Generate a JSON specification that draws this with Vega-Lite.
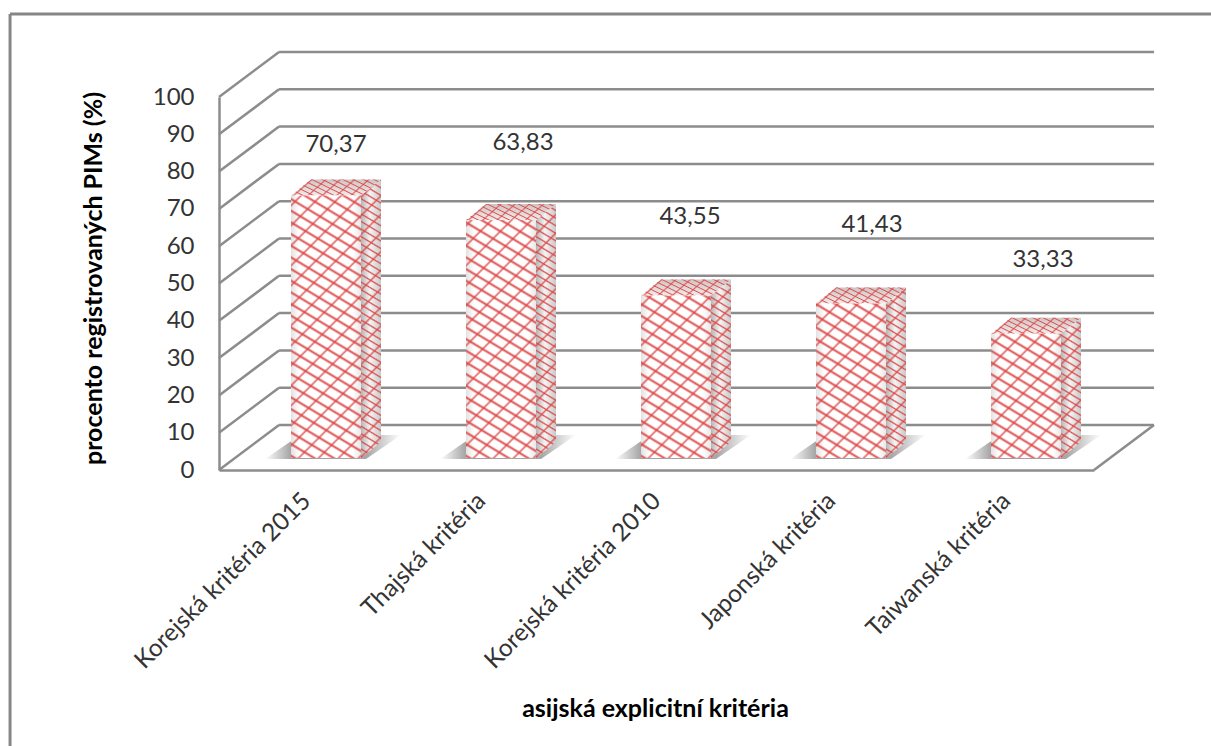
{"$schema":"https://vega.github.io/schema/vega-lite/v6.json","width":875,"height":373,"autosize":"none","padding":{"left":219,"top":97,"right":117,"bottom":276},"background":"white","config":{"font":"Lato","view":{"stroke":null},"axis":{"labelFont":"Lato","titleFont":"Lato"}},
"params":[
{"name":"pruhyA","value":[{"offset":0,"color":"#d440"},{"offset":0.005,"color":"#d44e"},{"offset":0.01,"color":"#d440"},{"offset":0.025,"color":"#d440"},{"offset":0.03,"color":"#d44e"},{"offset":0.035,"color":"#d440"},{"offset":0.05,"color":"#d440"},{"offset":0.055,"color":"#d44e"},{"offset":0.06,"color":"#d440"},{"offset":0.075,"color":"#d440"},{"offset":0.08,"color":"#d44e"},{"offset":0.085,"color":"#d440"},{"offset":0.1,"color":"#d440"},{"offset":0.105,"color":"#d44e"},{"offset":0.11,"color":"#d440"},{"offset":0.125,"color":"#d440"},{"offset":0.13,"color":"#d44e"},{"offset":0.135,"color":"#d440"},{"offset":0.15,"color":"#d440"},{"offset":0.155,"color":"#d44e"},{"offset":0.16,"color":"#d440"},{"offset":0.175,"color":"#d440"},{"offset":0.18,"color":"#d44e"},{"offset":0.185,"color":"#d440"},{"offset":0.2,"color":"#d440"},{"offset":0.205,"color":"#d44e"},{"offset":0.21,"color":"#d440"},{"offset":0.225,"color":"#d440"},{"offset":0.23,"color":"#d44e"},{"offset":0.235,"color":"#d440"},{"offset":0.25,"color":"#d440"},{"offset":0.255,"color":"#d44e"},{"offset":0.26,"color":"#d440"},{"offset":0.275,"color":"#d440"},{"offset":0.28,"color":"#d44e"},{"offset":0.285,"color":"#d440"},{"offset":0.3,"color":"#d440"},{"offset":0.305,"color":"#d44e"},{"offset":0.31,"color":"#d440"},{"offset":0.325,"color":"#d440"},{"offset":0.33,"color":"#d44e"},{"offset":0.335,"color":"#d440"},{"offset":0.35,"color":"#d440"},{"offset":0.355,"color":"#d44e"},{"offset":0.36,"color":"#d440"},{"offset":0.375,"color":"#d440"},{"offset":0.38,"color":"#d44e"},{"offset":0.385,"color":"#d440"},{"offset":0.4,"color":"#d440"},{"offset":0.405,"color":"#d44e"},{"offset":0.41,"color":"#d440"},{"offset":0.425,"color":"#d440"},{"offset":0.43,"color":"#d44e"},{"offset":0.435,"color":"#d440"},{"offset":0.45,"color":"#d440"},{"offset":0.455,"color":"#d44e"},{"offset":0.46,"color":"#d440"},{"offset":0.475,"color":"#d440"},{"offset":0.48,"color":"#d44e"},{"offset":0.485,"color":"#d440"},{"offset":0.5,"color":"#d440"},{"offset":0.505,"color":"#d44e"},{"offset":0.51,"color":"#d440"},{"offset":0.525,"color":"#d440"},{"offset":0.53,"color":"#d44e"},{"offset":0.535,"color":"#d440"},{"offset":0.55,"color":"#d440"},{"offset":0.555,"color":"#d44e"},{"offset":0.56,"color":"#d440"},{"offset":0.575,"color":"#d440"},{"offset":0.58,"color":"#d44e"},{"offset":0.585,"color":"#d440"},{"offset":0.6,"color":"#d440"},{"offset":0.605,"color":"#d44e"},{"offset":0.61,"color":"#d440"},{"offset":0.625,"color":"#d440"},{"offset":0.63,"color":"#d44e"},{"offset":0.635,"color":"#d440"},{"offset":0.65,"color":"#d440"},{"offset":0.655,"color":"#d44e"},{"offset":0.66,"color":"#d440"},{"offset":0.675,"color":"#d440"},{"offset":0.68,"color":"#d44e"},{"offset":0.685,"color":"#d440"},{"offset":0.7,"color":"#d440"},{"offset":0.705,"color":"#d44e"},{"offset":0.71,"color":"#d440"},{"offset":0.725,"color":"#d440"},{"offset":0.73,"color":"#d44e"},{"offset":0.735,"color":"#d440"},{"offset":0.75,"color":"#d440"},{"offset":0.755,"color":"#d44e"},{"offset":0.76,"color":"#d440"},{"offset":0.775,"color":"#d440"},{"offset":0.78,"color":"#d44e"},{"offset":0.785,"color":"#d440"},{"offset":0.8,"color":"#d440"},{"offset":0.805,"color":"#d44e"},{"offset":0.81,"color":"#d440"},{"offset":0.825,"color":"#d440"},{"offset":0.83,"color":"#d44e"},{"offset":0.835,"color":"#d440"},{"offset":0.85,"color":"#d440"},{"offset":0.855,"color":"#d44e"},{"offset":0.86,"color":"#d440"},{"offset":0.875,"color":"#d440"},{"offset":0.88,"color":"#d44e"},{"offset":0.885,"color":"#d440"},{"offset":0.9,"color":"#d440"},{"offset":0.905,"color":"#d44e"},{"offset":0.91,"color":"#d440"},{"offset":0.925,"color":"#d440"},{"offset":0.93,"color":"#d44e"},{"offset":0.935,"color":"#d440"},{"offset":0.95,"color":"#d440"},{"offset":0.955,"color":"#d44e"},{"offset":0.96,"color":"#d440"},{"offset":0.975,"color":"#d440"},{"offset":0.98,"color":"#d44e"},{"offset":0.985,"color":"#d440"}]},
{"name":"pruhyB","value":[{"offset":0,"color":"#d440"},{"offset":0.006,"color":"#d44c"},{"offset":0.012,"color":"#d440"},{"offset":0.05,"color":"#d440"},{"offset":0.056,"color":"#d44c"},{"offset":0.062,"color":"#d440"},{"offset":0.1,"color":"#d440"},{"offset":0.106,"color":"#d44c"},{"offset":0.112,"color":"#d440"},{"offset":0.15,"color":"#d440"},{"offset":0.156,"color":"#d44c"},{"offset":0.162,"color":"#d440"},{"offset":0.2,"color":"#d440"},{"offset":0.206,"color":"#d44c"},{"offset":0.212,"color":"#d440"},{"offset":0.25,"color":"#d440"},{"offset":0.256,"color":"#d44c"},{"offset":0.262,"color":"#d440"},{"offset":0.3,"color":"#d440"},{"offset":0.306,"color":"#d44c"},{"offset":0.312,"color":"#d440"},{"offset":0.35,"color":"#d440"},{"offset":0.356,"color":"#d44c"},{"offset":0.362,"color":"#d440"},{"offset":0.4,"color":"#d440"},{"offset":0.406,"color":"#d44c"},{"offset":0.412,"color":"#d440"},{"offset":0.45,"color":"#d440"},{"offset":0.456,"color":"#d44c"},{"offset":0.462,"color":"#d440"},{"offset":0.5,"color":"#d440"},{"offset":0.506,"color":"#d44c"},{"offset":0.512,"color":"#d440"},{"offset":0.55,"color":"#d440"},{"offset":0.556,"color":"#d44c"},{"offset":0.562,"color":"#d440"},{"offset":0.6,"color":"#d440"},{"offset":0.606,"color":"#d44c"},{"offset":0.612,"color":"#d440"},{"offset":0.65,"color":"#d440"},{"offset":0.656,"color":"#d44c"},{"offset":0.662,"color":"#d440"},{"offset":0.7,"color":"#d440"},{"offset":0.706,"color":"#d44c"},{"offset":0.712,"color":"#d440"},{"offset":0.75,"color":"#d440"},{"offset":0.756,"color":"#d44c"},{"offset":0.762,"color":"#d440"},{"offset":0.8,"color":"#d440"},{"offset":0.806,"color":"#d44c"},{"offset":0.812,"color":"#d440"},{"offset":0.85,"color":"#d440"},{"offset":0.856,"color":"#d44c"},{"offset":0.862,"color":"#d440"},{"offset":0.9,"color":"#d440"},{"offset":0.906,"color":"#d44c"},{"offset":0.912,"color":"#d440"},{"offset":0.95,"color":"#d440"},{"offset":0.956,"color":"#d44c"},{"offset":0.962,"color":"#d440"}]}
],
"datasets":{"osa":[{"hodnota":0},{"hodnota":10},{"hodnota":20},{"hodnota":30},{"hodnota":40},{"hodnota":50},{"hodnota":60},{"hodnota":70},{"hodnota":80},{"hodnota":90},{"hodnota":100}]},
"data":{"values":[{"kriterium":"Korejská kritéria 2015","procento":70.37},{"kriterium":"Thajská kritéria","procento":63.83},{"kriterium":"Korejská kritéria 2010","procento":43.55},{"kriterium":"Japonská kritéria","procento":41.43},{"kriterium":"Taiwanská kritéria","procento":33.33}]},
"transform":[
{"window":[{"op":"row_number","as":"poradi"}]},
{"calculate":"datum.poradi-1+0.4114","as":"levy"},
{"calculate":"datum.levy+0.4","as":"pravy"},
{"calculate":"datum.procento+3.2","as":"vrch"},
{"calculate":"replace(format(datum.procento,'.2f'),'.',',')","as":"popisek"},
{"calculate":"datum.procento*3.73","as":"h"},
{"calculate":"400/(70*datum.h*(pow(0.515/datum.h,2)+pow(0.857/70,2)))","as":"kA"},
{"calculate":"280/(70*datum.h*(pow(0.7/datum.h,2)+pow(0.7/70,2)))","as":"kB"},
{"calculate":"{gradient:'linear',x1:0,y1:1,x2:datum.kA*0.515/datum.h,y2:1-datum.kA*0.857/70,stops:pruhyA}","as":"predniA"},
{"calculate":"{gradient:'linear',x1:1,y1:1,x2:1-datum.kB*0.7/datum.h,y2:1-datum.kB*0.7/70,stops:pruhyB}","as":"predniB"},
{"calculate":"datum.h+16","as":"hs"},
{"calculate":"260/(20*datum.hs*(pow(0.515/datum.hs,2)+pow(0.857/20,2)))","as":"kSA"},
{"calculate":"260/(20*datum.hs*(pow(0.7/datum.hs,2)+pow(0.7/20,2)))","as":"kSB"},
{"calculate":"{gradient:'linear',x1:0,y1:1,x2:datum.kSA*0.515/datum.hs,y2:1-datum.kSA*0.857/20,stops:pruhyA}","as":"bocniA"},
{"calculate":"{gradient:'linear',x1:1,y1:1,x2:1-datum.kSB*0.7/datum.hs,y2:1-datum.kSB*0.7/20,stops:pruhyB}","as":"bocniB"}
],
"layer":[
{"data":{"values":[{}]},"mark":{"type":"rule","stroke":"#868686","strokeWidth":3},"encoding":{"x":{"datum":-1.194,"type":"quantitative","scale":{"domain":[0,5],"nice":false,"zero":false},"axis":{"title":"asijská explicitní kritéria","values":[0.5,1.5,2.5,3.5,4.5],"labelExpr":"['Korejská kritéria 2015','Thajská kritéria','Korejská kritéria 2010','Japonská kritéria','Taiwanská kritéria'][floor(datum.value)]","labelAngle":-45,"labelAlign":"right","labelBaseline":"middle","labelFontSize":24.5,"labelLimit":500,"labelColor":"#333","labelPadding":27,"ticks":false,"grid":false,"domainColor":"#8c8c8c","domainWidth":2.5,"titleFontSize":25,"titleFontWeight":"bold","titleColor":"#000","titleX":436,"titleY":226,"labelOverlap":false,"labelBound":false,"labelFlush":false}},"y":{"datum":122.25,"type":"quantitative","scale":{"domain":[0,100],"nice":false},"axis":{"title":"procento registrovaných PIMs (%)","values":[0,10,20,30,40,50,60,70,80,90,100],"tickCount":11,"labelFontSize":24,"labelColor":"#333","labelPadding":25,"labelOverlap":false,"labelBound":false,"labelFlush":false,"ticks":false,"grid":false,"domainColor":"#8c8c8c","domainWidth":2.5,"titleFontSize":25,"titleFontWeight":"bold","titleColor":"#000","titleX":-113,"titleY":181}},"y2":{"datum":-173}}},
{"data":{"values":[{}]},"mark":{"type":"rule","stroke":"#868686","strokeWidth":3},"encoding":{"x":{"datum":-1.194,"type":"quantitative"},"x2":{"datum":6},"y":{"datum":122.25,"type":"quantitative"}}},
{"data":{"name":"osa"},"transform":[{"calculate":"datum.hodnota+12.06","as":"zadni"}],"mark":{"type":"rule","stroke":"#8c8c8c","strokeWidth":2.5},"encoding":{"x":{"datum":0,"type":"quantitative"},"x2":{"datum":0.343},"y":{"field":"hodnota","type":"quantitative"},"y2":{"field":"zadni"}}},
{"data":{"name":"osa"},"transform":[{"calculate":"datum.hodnota+12.06","as":"zadni"}],"mark":{"type":"rule","stroke":"#8c8c8c","strokeWidth":2.5},"encoding":{"x":{"datum":0.343,"type":"quantitative"},"x2":{"datum":5.343},"y":{"field":"zadni","type":"quantitative"}}},
{"data":{"values":[{}]},"mark":{"type":"rule","stroke":"#8c8c8c","strokeWidth":2.5},"encoding":{"x":{"datum":5,"type":"quantitative"},"x2":{"datum":5.343},"y":{"datum":0,"type":"quantitative"},"y2":{"datum":12.06}}},
{"mark":{"type":"point","shape":"M-26,-11L75,-11L110,-35L9,-35Z","size":4,"filled":true,"opacity":1,"strokeWidth":0,"fill":{"gradient":"linear","x1":0,"y1":0,"x2":1,"y2":0,"stops":[{"offset":0,"color":"#fff"},{"offset":0.2,"color":"#a0a0a0"},{"offset":0.75,"color":"#a8a8a8"},{"offset":1,"color":"#fff"}]}},"encoding":{"x":{"field":"levy","type":"quantitative"},"y":{"datum":0,"type":"quantitative"}}},
{"transform":[{"calculate":"[0,1]","as":"hloubka"},{"flatten":["hloubka"]},{"calculate":"datum.pravy+datum.hloubka*0.1143","as":"bok"},{"calculate":"datum.vrch+datum.hloubka*4.3","as":"bokHorni"},{"calculate":"3.2+datum.hloubka*4.3","as":"bokDolni"}],"mark":{"type":"area","orient":"vertical","fill":{"gradient":"linear","x1":0,"y1":0,"x2":1,"y2":0,"stops":[{"offset":0,"color":"#b5b5b5"},{"offset":0.45,"color":"#f4f4f4"},{"offset":1,"color":"#c8c8c8"}]}},"encoding":{"x":{"field":"bok","type":"quantitative"},"y":{"field":"bokHorni","type":"quantitative","stack":null},"y2":{"field":"bokDolni"},"detail":{"field":"kriterium"}}},
{"transform":[{"calculate":"[0,1]","as":"hloubka"},{"flatten":["hloubka"]},{"calculate":"datum.pravy+datum.hloubka*0.1143","as":"bok"},{"calculate":"datum.vrch+datum.hloubka*4.3","as":"bokHorni"},{"calculate":"3.2+datum.hloubka*4.3","as":"bokDolni"}],"mark":{"type":"area","orient":"vertical"},"encoding":{"x":{"field":"bok","type":"quantitative"},"y":{"field":"bokHorni","type":"quantitative","stack":null},"y2":{"field":"bokDolni"},"detail":{"field":"kriterium"},"fill":{"field":"bocniA","type":"nominal","scale":null,"legend":null}}},
{"transform":[{"calculate":"[0,1]","as":"hloubka"},{"flatten":["hloubka"]},{"calculate":"datum.pravy+datum.hloubka*0.1143","as":"bok"},{"calculate":"datum.vrch+datum.hloubka*4.3","as":"bokHorni"},{"calculate":"3.2+datum.hloubka*4.3","as":"bokDolni"}],"mark":{"type":"area","orient":"vertical"},"encoding":{"x":{"field":"bok","type":"quantitative"},"y":{"field":"bokHorni","type":"quantitative","stack":null},"y2":{"field":"bokDolni"},"detail":{"field":"kriterium"},"fill":{"field":"bocniB","type":"nominal","scale":null,"legend":null}}},
{"mark":{"type":"point","shape":"M0,0L70,0L90,-16L20,-16Z","size":4,"filled":true,"opacity":1,"strokeWidth":0,"fill":{"gradient":"linear","x1":0,"y1":1,"x2":0,"y2":0,"stops":[{"offset":0,"color":"#f2e9e9"},{"offset":1,"color":"#cfc4c4"}]}},"encoding":{"x":{"field":"levy","type":"quantitative"},"y":{"field":"vrch","type":"quantitative"}}},
{"mark":{"type":"point","shape":"M0,0L70,0L90,-16L20,-16Z","size":4,"filled":true,"opacity":1,"strokeWidth":0,"fill":{"expr":"{gradient:'linear',x1:0,y1:1,x2:4.06,y2:-0.468,stops:pruhyA}"}},"encoding":{"x":{"field":"levy","type":"quantitative"},"y":{"field":"vrch","type":"quantitative"}}},
{"mark":{"type":"point","shape":"M0,0L70,0L90,-16L20,-16Z","size":4,"filled":true,"opacity":1,"strokeWidth":0,"fill":{"expr":"{gradient:'linear',x1:1,y1:1,x2:-2.05,y2:0.39,stops:pruhyB}"}},"encoding":{"x":{"field":"levy","type":"quantitative"},"y":{"field":"vrch","type":"quantitative"}}},
{"mark":{"type":"rect","fill":{"gradient":"linear","x1":0,"y1":0,"x2":1,"y2":0,"stops":[{"offset":0,"color":"#e2e2e2"},{"offset":0.12,"color":"#ffffff"},{"offset":0.88,"color":"#ffffff"},{"offset":1,"color":"#e8e8e8"}]}},"encoding":{"x":{"field":"levy","type":"quantitative"},"x2":{"field":"pravy"},"y":{"field":"vrch","type":"quantitative"},"y2":{"datum":3.2}}},
{"mark":{"type":"rect"},"encoding":{"x":{"field":"levy","type":"quantitative"},"x2":{"field":"pravy"},"y":{"field":"vrch","type":"quantitative"},"y2":{"datum":3.2},"fill":{"field":"predniA","type":"nominal","scale":null,"legend":null}}},
{"mark":{"type":"rect"},"encoding":{"x":{"field":"levy","type":"quantitative"},"x2":{"field":"pravy"},"y":{"field":"vrch","type":"quantitative"},"y2":{"datum":3.2},"fill":{"field":"predniB","type":"nominal","scale":null,"legend":null}}},
{"mark":{"type":"text","fontSize":24,"fill":"#333","baseline":"middle","align":"center","dx":{"expr":"[45,57,49,56,52][datum.poradi-1]"},"dy":{"expr":"[-62.5,-89,-90.6,-90.5,-85.7][datum.poradi-1]"}},"encoding":{"x":{"field":"levy","type":"quantitative"},"y":{"field":"procento","type":"quantitative"},"text":{"field":"popisek"}}}
]}
